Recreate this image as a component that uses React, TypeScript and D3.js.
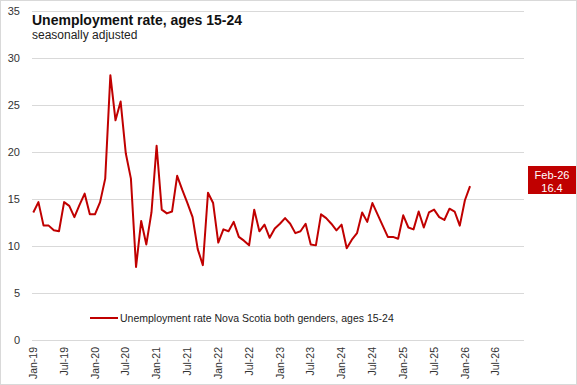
import { scaleLinear, line } from "d3";

// monthly values Jan-19 .. Feb-26 (Nova Scotia, ages 15-24, SA)
const startYear = 2019;
const rate19 = [13.6, 14.7, 12.2, 12.2, 11.7, 11.6, 14.7, 14.3, 13.1, 14.4, 15.6, 13.4];
const rate20 = [13.4, 14.7, 17.2, 28.2, 23.4, 25.4, 19.9, 17.2, 7.8, 12.7, 10.2, 13.6];
const rate21 = [20.7, 13.9, 13.5, 13.7, 17.5, 16.0, 14.6, 13.1, 9.7, 8.0, 15.7, 14.6];
const rate22 = [10.4, 11.8, 11.6, 12.6, 11.0, 10.6, 10.1, 13.9, 11.6, 12.3, 10.9, 11.9];
const rate23 = [12.4, 13.0, 12.4, 11.4, 11.6, 12.4, 10.2, 10.1, 13.4, 13.0, 12.4, 11.7];
const rate24 = [12.3, 9.8, 10.7, 11.4, 13.6, 12.6, 14.6, 13.4, 12.2, 11.0, 11.0, 10.8];
const rate25 = [13.3, 12.0, 11.8, 13.7, 12.0, 13.6, 13.9, 13.1, 12.8, 14.0, 13.7, 12.2];
const rate26 = [14.9, 16.4];

const values = [...rate19, ...rate20, ...rate21, ...rate22, ...rate23, ...rate24, ...rate25, ...rate26];
const yTicks = [0, 5, 10, 15, 20, 25, 30, 35];
const monthNames = ["Jan", "Feb", "Mar", "Apr", "May", "Jun", "Jul", "Aug", "Sep", "Oct", "Nov", "Dec"];
const xTickMonths = [0, 6, 12, 18, 24, 30, 36, 42, 48, 54, 60, 66, 72, 78, 84, 90];

const W = 577;
const H = 385;
const RED = "#c00000";
const GRID = "#d9d9d9";
const FONT = "'Liberation Sans', Arial, sans-serif";

const monthLabel = (m: number) =>
  `${monthNames[m % 12]}-${String((startYear + Math.floor(m / 12)) % 100).padStart(2, "0")}`;

export default function App() {
  const x = scaleLinear().domain([-0.25, 95.5]).range([32, 524]);
  const y = scaleLinear().domain([0, 35]).range([340.3, 11.3]);

  const path = line<number>()
    .x((_, i) => x(i))
    .y((d) => y(d))(values);

  const last = values.length - 1;

  return (
    <div style={{ position: "fixed", left: 0, top: 0 }}>
      <svg width={W} height={H} style={{ display: "block", fontFamily: FONT }}>
        <rect x={0.5} y={0.5} width={W - 1} height={H - 1} fill="#fff" stroke={GRID} />
        {/* gridlines + y labels */}
        {yTicks.map((t) => (
          <g key={t}>
            <line x1={32} x2={524} y1={Math.round(y(t)) + 0.5} y2={Math.round(y(t)) + 0.5} stroke={GRID} />
            <text x={20} y={y(t)} dy="0.35em" textAnchor="end" fontSize={11} fill="#333">
              {t}
            </text>
          </g>
        ))}
        {/* x labels */}
        {xTickMonths.map((m) => (
          <text
            key={m}
            transform={`translate(${x(m)},347) rotate(-90)`}
            dy="0.35em"
            textAnchor="end"
            fontSize={10.5}
            fill="#333"
          >
            {monthLabel(m)}
          </text>
        ))}
        {/* title */}
        <text x={32} y={25} fontSize={14} fontWeight="bold" fill="#111">
          Unemployment rate, ages 15-24
        </text>
        <text x={32} y={39} fontSize={12} fill="#222">
          seasonally adjusted
        </text>
        {/* series */}
        <path d={path ?? ""} fill="none" stroke={RED} strokeWidth={2} strokeLinejoin="round" />
        {/* legend */}
        <line x1={90} x2={118} y1={318} y2={318} stroke={RED} strokeWidth={2} />
        <text x={120} y={318} dy="0.35em" fontSize={10.5} fill="#222">
          Unemployment rate Nova Scotia both genders, ages 15-24
        </text>
        {/* last value label */}
        <rect x={528} y={166} width={48} height={28} fill={RED} />
        <text x={552} y={179} textAnchor="middle" fontSize={11} fill="#fff">
          {monthLabel(last)}
        </text>
        <text x={552} y={192} textAnchor="middle" fontSize={11} fill="#fff">
          {values[last].toFixed(1)}
        </text>
      </svg>
    </div>
  );
}
